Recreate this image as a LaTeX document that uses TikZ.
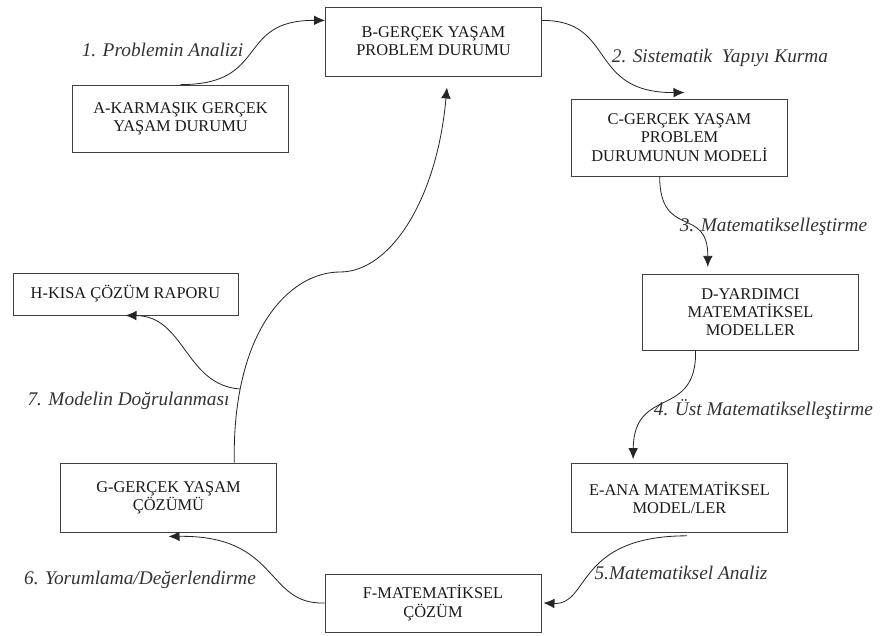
\documentclass[tikz,border=0pt]{standalone}
\usepackage{fontspec}
\setmainfont{Liberation Serif}
\usetikzlibrary{arrows.meta}
\tikzset{kutu/.style={draw=black!75, line width=0.8pt, align=center, text=black!90, font=\fontsize{14}{15.5}\selectfont, minimum width=6.48cm, inner sep=0pt},
etiket/.style={text=black!80, font=\fontsize{16.5}{18}\selectfont\itshape, inner sep=0pt},
ok/.style={-{Latex[length=3.3mm,width=2.9mm]}, line width=0.7pt, draw=black!85}}
\begin{document}
\begin{tikzpicture}
\useasboundingbox (0,0) rectangle (26.49,-19.08);
\node[kutu, minimum height=2.01cm] (A) at (5.415,-3.555) {A-KARMAŞIK GERÇEK\\YAŞAM DURUMU};
\node[kutu, minimum height=2.07cm] (B) at (13.005,-1.245) {B-GERÇEK YAŞAM\\PROBLEM DURUMU};
\node[kutu, minimum height=2.31cm] (C) at (20.385,-4.125) {C-GERÇEK YAŞAM\\PROBLEM\\DURUMUNUN MODELİ};
\node[kutu, minimum height=2.28cm] (D) at (22.515,-9.36) {D-YARDIMCI\\MATEMATİKSEL\\MODELLER};
\node[kutu, minimum height=2.07cm] (E) at (20.385,-14.925) {E-ANA MATEMATİKSEL\\MODEL/LER};
\node[kutu, minimum height=1.74cm] (F) at (12.99,-18.09) {F-MATEMATİKSEL\\ÇÖZÜM};
\node[kutu, minimum height=2.07cm] (G) at (5.055,-14.925) {G-GERÇEK YAŞAM\\ÇÖZÜMÜ};
\node[kutu, minimum height=1.26cm, minimum width=6.75cm] (H) at (3.765,-8.82) {H-KISA ÇÖZÜM RAPORU};
\node[etiket] (e1) at (4.875,-1.5) {1. Problemin Analizi};
\node[etiket] (e2) at (21.6,-1.74) {2. Sistematik~ Yapıyı Kurma};
\node[etiket] (e3) at (23.205,-6.81) {3. Matematikselleştirme};
\node[etiket] (e4) at (22.905,-12.3) {4. Üst Matematikselleştirme};
\node[etiket] (e5) at (20.43,-17.19) {5.Matematiksel Analiz};
\node[etiket] (e6) at (4.2,-17.4) {6. Yorumlama/Değerlendirme};
\node[etiket] (e7) at (3.855,-12.03) {7. Modelin Doğrulanması};
\coordinate (v) at (7.2,-11.67);
\draw[ok] (A.north) .. controls (8.1,-2.55) and (7.05,-0.6) .. (B.169);
\draw[ok] (B.11) .. controls (18.5,-0.6) and (17.6,-2.79) .. ([xshift=0.15cm,yshift=0.18cm]C.north);
\draw[ok] (C.243) .. controls (19.8,-7.2) and (21.24,-6.15) .. ([yshift=0.2cm]D.138);
\draw[ok] (D.215) .. controls (20.91,-12.6) and (19.02,-11.55) .. ([yshift=0.1cm]E.143);
\draw[ok] ([yshift=-0.1cm]E.282) .. controls (17.25,-16.08) and (17.7,-18.15) .. ([xshift=0.06cm]F.east);
\draw[ok] (F.west) .. controls (7.95,-18.15) and (8.4,-16.05) .. ([yshift=-0.12cm]G.south);
\draw[ok] (G.28) .. controls (6.96,-9.9) and (8.7,-8.16) .. (10.2,-8.16) .. controls (11.7,-8.16) and (13.11,-6.0) .. ([yshift=-0.33cm]B.291);
\draw[ok] (v) .. controls (5.55,-11.55) and (5.55,-9.48) .. (H.south);
\end{tikzpicture}
\end{document}
